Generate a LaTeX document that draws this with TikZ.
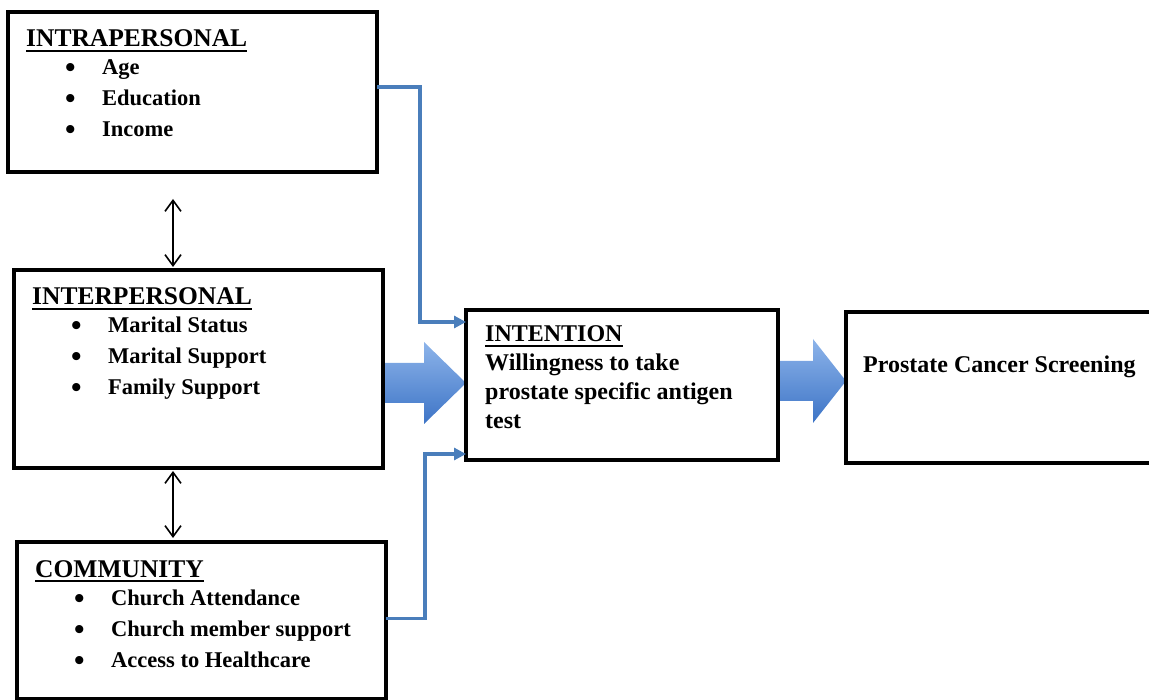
\documentclass[tikz,border=0pt]{standalone}
\usepackage{fontspec}
\setmainfont{Liberation Serif}
\usetikzlibrary{arrows.meta,positioning,calc,backgrounds}
\definecolor{LinkBlue}{HTML}{4A7EBB}
\definecolor{ArrTop}{HTML}{8DB4EA}
\definecolor{ArrBot}{HTML}{3D74C6}
\newcommand{\bul}{\makebox[37pt][l]{\raisebox{-3pt}{\fontsize{30}{30}\selectfont\textbullet}}}
\tikzset{
 box/.style={draw=black,line width=3.5pt,anchor=north west,inner sep=0pt,outer sep=0pt},
 head/.style={anchor=base west,inner sep=0pt,font=\bfseries\fontsize{25.5}{30}\selectfont},
 item/.style={anchor=base west,inner sep=0pt,font=\bfseries\fontsize{22.5}{27}\selectfont},
 txt/.style={anchor=base west,inner sep=0pt,font=\bfseries\fontsize{24}{28}\selectfont},
 uline/.style={line width=1.6pt},
 link/.style={draw=LinkBlue,line width=3.5pt,-{Triangle[length=12pt,width=12pt]}},
 dbl/.style={{Straight Barb[length=11pt,width=16pt]}-{Straight Barb[length=11pt,width=16pt]},line width=1.6pt},
 bigarr/.style={top color=ArrTop,bottom color=ArrBot,draw=none}
}
\begin{document}
\begin{tikzpicture}[x=1pt,y=-1pt]
\useasboundingbox (0,0) rectangle (1149,700);
% levels on the left
\node[box,minimum width=369pt,minimum height=160pt] (intra) at (8,12) {};
\node[box,minimum width=369pt,minimum height=198pt] (inter) at (14,270) {};
\node[box,minimum width=369pt,minimum height=157pt] (comm) at (17,542) {};
% intention and outcome
\node[box,minimum width=312pt,minimum height=150pt] (intent) at (466,310) {};
\node[box,minimum width=320pt,minimum height=151pt] (screen) at (846,312) {};
\foreach \b/\h/\l in {intra/INTRAPERSONAL/{Age,Education,Income},
  inter/INTERPERSONAL/{Marital Status,Marital Support,Family Support},
  comm/COMMUNITY/{Church Attendance,Church member support,Access to Healthcare}} {
 \node[head] (\b-head) at ($(\b.north west)+(18,35)$) {\h};
 \draw[uline] ($(\b-head.base west)+(0,4)$) -- ($(\b-head.base east)+(0,4)$);
 \foreach \t [count=\i] in \l
  \node[item] (\b-\i) at ($(\b.north west)+(57,{63+31*(\i-1)})$) {\bul\t};
}
\node[txt] (intent-head) at ($(intent.north west)+(19,32)$) {INTENTION};
\draw[uline] ($(intent-head.base west)+(0,4)$) -- ($(intent-head.base east)+(0,4)$);
\foreach \t [count=\i] in {Willingness to take,prostate specific antigen,test}
 \node[txt] (intent-\i) at ($(intent.north west)+(19,{32+29*\i})$) {\t};
\node[txt] (screen-text) at ($(screen.north west)+(17,61)$) {Prostate Cancer Screening};
% connectors
\coordinate (ax) at (173,0);
\draw[dbl,shorten <=27pt,shorten >=3pt] (intra.south -| ax) -- (inter.north -| ax);
\draw[dbl,shorten <=3pt,shorten >=4pt] (inter.south -| ax) -- (comm.north -| ax);
\draw[link] ([yshift=5pt]intra.east) -- ++(43,0) |- ([yshift=63pt]intent.west);
\draw[link] ([yshift=2pt]comm.east) -- ++(39,0) |- ([yshift=-69pt]intent.west);
\begin{scope}[on background layer]
\foreach \a/\b/\y/\s/\h in {inter/intent/383/41/41, intent/screen/381/35/42} {
 \coordinate (\a-out) at (\a.east |- 0,\y);
 \shade[bigarr] (\a-out) ++(0,-20) -- ++(\s,0) -- ++(0,{20-\h}) -- (\b.west |- \a-out)
  -- ($(\a-out)+(\s,\h)$) -- ++(0,{20-\h}) -- ++(-\s,0) -- cycle;
}
\end{scope}
\end{tikzpicture}
\end{document}
